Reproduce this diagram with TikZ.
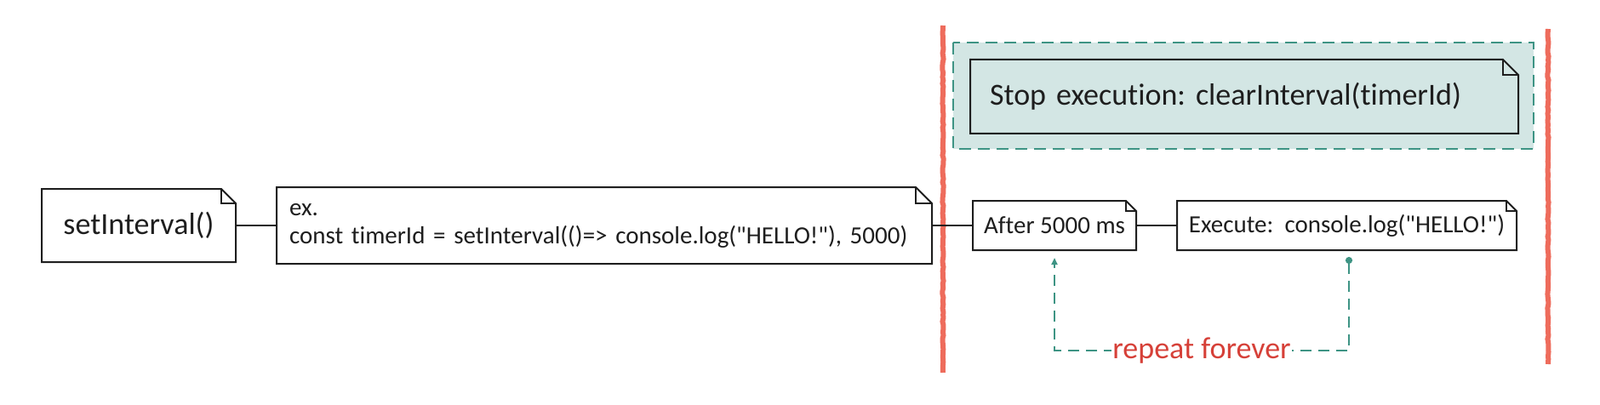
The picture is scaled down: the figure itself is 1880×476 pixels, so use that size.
\documentclass[tikz,border=0pt]{standalone}
\usepackage{fontspec}
\defaultfontfeatures{}
\defaultfontfeatures[\rmfamily]{}
\setmainfont{Carlito}[Ligatures=NoCommon]
\frenchspacing
\usetikzlibrary{arrows.meta,decorations.pathmorphing}
\definecolor{inkline}{RGB}{30,30,30}
\definecolor{tealline}{RGB}{62,148,132}
\definecolor{tealfill}{RGB}{211,230,228}
\definecolor{redline}{RGB}{238,108,92}
\definecolor{redtext}{RGB}{214,64,56}
\newcommand{\dq}{\symbol{34}}
\newcommand{\notefold}[2]{%
\draw[notebox] (#1.south west) -- (#1.south east) -- ([yshift=-#2pt]#1.north east) -- ([xshift=-#2pt]#1.north east) -- (#1.north west) -- cycle;
\draw[notebox] ([xshift=-#2pt]#1.north east) |- ([yshift=-#2pt]#1.north east);}
\begin{document}
\begin{tikzpicture}[x=1pt,y=-1pt,
  notebox/.style={draw=inkline,line width=2pt,line join=miter},
  note/.style={inner sep=0pt,outer sep=0pt,text=inkline,font=\fontsize{29}{33}\selectfont},
  bignote/.style={note,font=\fontsize{36}{43}\selectfont},
  wire/.style={inkline,line width=1.8pt},
  redmark/.style={redline,line width=6pt,decorate,decoration={random steps,segment length=4pt,amplitude=0.6pt}},
  tealdash/.style={tealline,line width=2.5pt,dash pattern=on 14pt off 8pt}]
\useasboundingbox (0,0) rectangle (1880,476);

\fill[tealfill] (1120,50) rectangle (1802,175);
\draw[tealdash] (1120,50) rectangle (1802,175);

\node[bignote,minimum width=228pt,minimum height=86pt] (call) at (163,265) {setInterval()};
\node[note,minimum width=770pt,minimum height=90pt,text width=740pt,align=left] (sample) at (710,265) {ex.\\const timerId = setInterval(()=> console.log(\dq HELLO!\dq), 5000)};
\node[note,minimum width=192pt,minimum height=58pt] (wait) at (1239,265) {After 5000 ms};
\node[note,minimum width=399pt,minimum height=58pt] (run) at (1582.5,265) {Execute:~~console.log(\dq HELLO!\dq)};
\node[bignote,minimum width=644pt,minimum height=87pt,text width=598pt,align=left] (stop) at (1462,113.5) {Stop execution: clearInterval(timerId)};

\notefold{call}{17}
\notefold{sample}{19}
\notefold{wait}{12}
\notefold{run}{12}
\notefold{stop}{18}

\draw[redmark] (1108,30) -- (1108,438);
\draw[redmark] (1819,34) -- (1819,428);

\draw[wire] (call) -- (sample);
\draw[wire] (sample) -- (wait);
\draw[wire] (wait) -- (run);

\coordinate (loopfrom) at (1585,302);
\coordinate (loopto) at (1239,303);
\draw[tealdash,dash pattern=on 13pt off 8pt,{Circle[length=8pt]}-{Triangle[length=8pt,width=7pt]}] (loopfrom) -- ++(0,110) -| node[pos=0.25,fill=white,inner sep=1pt,text=redtext,font=\fontsize{36}{43}\selectfont] (repeat) {repeat forever} (loopto);
\end{tikzpicture}
\end{document}
